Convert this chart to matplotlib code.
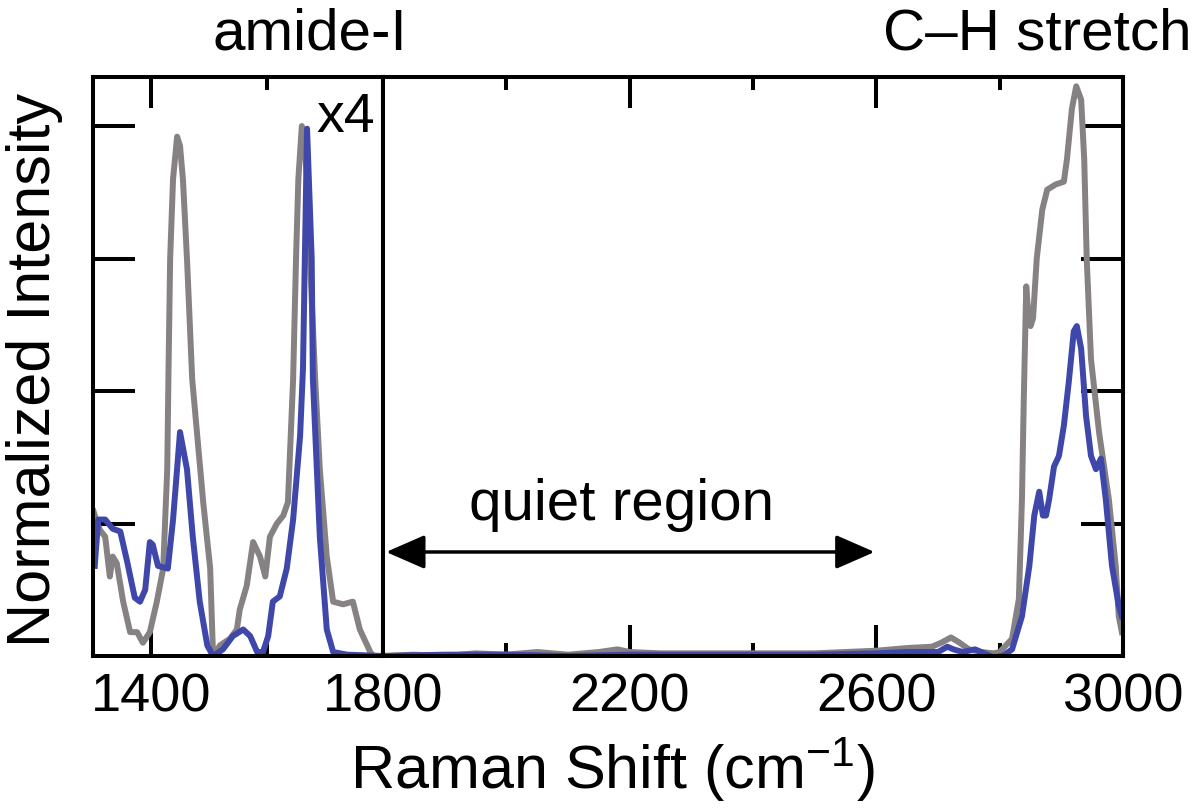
import matplotlib
matplotlib.use('Agg')
import matplotlib.pyplot as plt

plt.rcParams['font.family'] = ['Liberation Sans', 'DejaVu Sans']
plt.rcParams['mathtext.fontset'] = 'custom'
plt.rcParams['mathtext.rm'] = 'Liberation Sans'
plt.rcParams['mathtext.it'] = 'Liberation Sans:italic'
plt.rcParams['mathtext.bf'] = 'Liberation Sans:bold'

# ---------------- data ----------------
# left panel (1300-1800 cm-1), amide region, shown x4
gray_left_x = [1301, 1306, 1312, 1321, 1329, 1334, 1341, 1352, 1364, 1376, 1386, 1398,
               1410, 1421, 1428, 1430, 1433, 1438, 1445, 1450, 1455, 1462, 1471, 1490,
               1502, 1507, 1519, 1536, 1548, 1553, 1565, 1576, 1588, 1597, 1605, 1617,
               1628, 1636, 1645, 1650, 1654, 1660, 1664, 1669, 1674, 1683, 1691, 1703,
               1714, 1731, 1748, 1760, 1778, 1783, 1800]
gray_left_y = [1.09, 1.02, 0.95, 0.90, 0.60, 0.75, 0.70, 0.41, 0.18, 0.18, 0.10, 0.18,
               0.41, 0.66, 1.41, 2.10, 3.00, 3.60, 3.92, 3.85, 3.60, 3.00, 2.09, 1.16,
               0.66, 0.00, 0.08, 0.13, 0.20, 0.35, 0.53, 0.86, 0.75, 0.60, 0.90, 1.00,
               1.06, 1.16, 2.09, 3.00, 3.60, 4.00, 3.90, 3.60, 3.00, 2.09, 1.41, 0.75,
               0.41, 0.39, 0.41, 0.20, 0.03, 0.00, 0.00]

blue_left_x = [1303, 1309, 1321, 1334, 1347, 1359, 1372, 1381, 1390, 1398, 1403, 1412,
               1429, 1438, 1450, 1462, 1472, 1484, 1497, 1507, 1524, 1541, 1559, 1571,
               1583, 1593, 1602, 1610, 1622, 1634, 1645, 1657, 1662, 1669, 1677, 1679,
               1691, 1703, 1714, 1738, 1800]
blue_left_y = [0.68, 1.03, 1.03, 0.96, 0.94, 0.71, 0.44, 0.41, 0.50, 0.86, 0.84, 0.68,
               0.66, 1.03, 1.69, 1.41, 0.90, 0.41, 0.08, 0.00, 0.05, 0.15, 0.20, 0.15,
               0.03, 0.03, 0.15, 0.41, 0.45, 0.66, 1.03, 1.66, 2.17, 3.98, 3.00, 2.10,
               0.90, 0.20, 0.03, 0.01, 0.00]

# right panel (1800-3000 cm-1), quiet region + C-H stretch
gray_right_x = [1800, 1850, 1900, 1950, 2000, 2050, 2100, 2150, 2180, 2200, 2250, 2300,
                2400, 2500, 2550, 2600, 2650, 2690, 2705, 2721, 2735, 2750, 2770, 2790,
                2800, 2820, 2831, 2836, 2839, 2843, 2846, 2850, 2854, 2860, 2869, 2877,
                2891, 2904, 2909, 2917, 2924, 2932, 2937, 2941, 2948, 2961, 2977, 2988,
                2993, 2998]
gray_right_y = [0.00, 0.01, 0.00, 0.02, 0.01, 0.03, 0.01, 0.03, 0.05, 0.03, 0.02, 0.02,
                0.02, 0.02, 0.03, 0.04, 0.06, 0.07, 0.10, 0.14, 0.10, 0.05, 0.03, 0.02,
                0.03, 0.13, 0.43, 1.18, 1.94, 2.79, 2.60, 2.49, 2.55, 3.00, 3.37, 3.52,
                3.56, 3.58, 3.75, 4.13, 4.30, 4.20, 3.75, 3.00, 2.24, 1.69, 1.18, 0.68,
                0.30, 0.18]

blue_right_x = [1800, 1900, 2000, 2100, 2200, 2300, 2400, 2500, 2600, 2650, 2700, 2715,
                2725, 2740, 2760, 2775, 2790, 2805, 2820, 2836, 2848, 2856, 2864, 2870,
                2875, 2880, 2888, 2896, 2904, 2912, 2920, 2925, 2932, 2940, 2948, 2956,
                2964, 2972, 2982, 2993, 2998]
blue_right_y = [0.00, 0.01, 0.01, 0.00, 0.01, 0.01, 0.01, 0.01, 0.02, 0.03, 0.03, 0.07,
                0.05, 0.03, 0.05, 0.02, -0.01, 0.00, 0.05, 0.30, 0.68, 1.06, 1.24, 1.06,
                1.06, 1.18, 1.43, 1.51, 1.74, 2.07, 2.45, 2.49, 2.32, 1.81, 1.51, 1.41,
                1.49, 1.18, 0.68, 0.38, 0.30]

left_major = [1400, 1800]
left_minor = [1600]
right_major = [2200, 2600, 3000]
right_minor = [2000, 2400, 2800]
y_ticks = [1, 2, 3, 4]

GRAY = '#868283'
BLUE = '#3f47ab'
LW = 4.3
FS_TICK = 39
FS_NOTE = 42
FS_LABEL = 44

fig = plt.figure(figsize=(12, 8.12), dpi=100)
axL = fig.add_axes([0.0775, 0.1909, 0.2417, 0.713])
axR = fig.add_axes([0.3192, 0.1909, 0.6167, 0.713])

axL.plot(gray_left_x, gray_left_y, color=GRAY, lw=LW, solid_joinstyle='round')
axL.plot(blue_left_x, blue_left_y, color=BLUE, lw=LW, solid_joinstyle='round')
axR.plot(gray_right_x, gray_right_y, color=GRAY, lw=LW, solid_joinstyle='round')
axR.plot(blue_right_x, blue_right_y, color=BLUE, lw=LW, solid_joinstyle='round')

axL.set_xlim(1300, 1800)
axR.set_xlim(1800, 3000)
for ax in (axL, axR):
    ax.set_ylim(0, 4.37)
    for sp in ax.spines.values():
        sp.set_linewidth(2.9)
        sp.set_zorder(3)
    ax.tick_params(axis='x', which='both', direction='in', top=True, bottom=True,
                   width=2.9, labelsize=FS_TICK, pad=11)
    ax.tick_params(axis='x', which='major', length=22)
    ax.tick_params(axis='x', which='minor', length=9.5)

axL.set_xticks(left_major)
axL.set_xticks(left_minor, minor=True)
axR.set_xticks(right_major)
axR.set_xticks(right_minor, minor=True)

axL.set_yticks(y_ticks)
axL.tick_params(axis='y', direction='in', left=True, right=False, labelleft=False,
                length=30, width=2.9)
axR.set_yticks(y_ticks)
axR.tick_params(axis='y', direction='in', left=False, right=True, labelleft=False,
                labelright=False, length=30, width=2.9)

axL.text(1736, 4.07, 'x4', fontsize=FS_TICK + 1, ha='center', va='center')

axR.annotate('', xy=(1805, 0.785), xytext=(2597, 0.785),
             arrowprops=dict(arrowstyle='<|-|>,head_length=0.8,head_width=0.35',
                             color='black', lw=2.5, mutation_scale=30,
                             shrinkA=0, shrinkB=0))
axR.text(2187, 1.15, 'quiet region', fontsize=FS_NOTE, ha='center', va='center')

fig.text(0.258, 0.958, 'amide-I', fontsize=FS_NOTE, ha='center', va='center')
fig.text(0.993, 0.958, 'C\u2013H stretch', fontsize=FS_NOTE, ha='right', va='center')
fig.text(0.51, 0.052, r'Raman Shift (cm$^{\mathregular{-1}}$)', fontsize=FS_LABEL,
         ha='center', va='center')
fig.text(0.029, 0.545, 'Normalized Intensity', fontsize=FS_LABEL, ha='center',
         va='center', rotation=90)

fig.savefig('out.png', dpi=100)
